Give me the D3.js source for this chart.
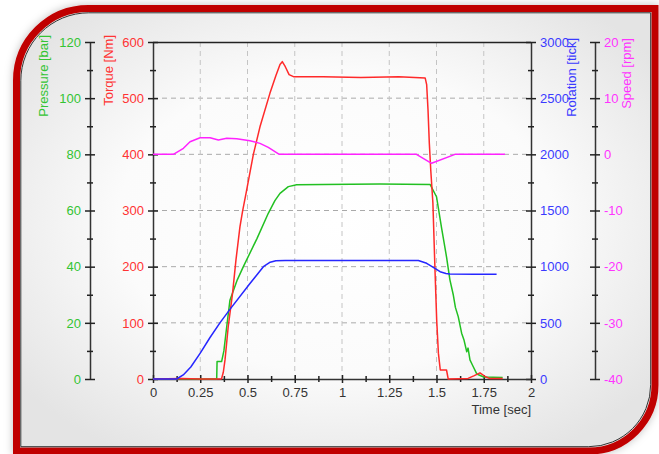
<!DOCTYPE html>
<html><head><meta charset="utf-8">
<script src="https://cdn.jsdelivr.net/npm/d3@7"></script>
<style>
body{margin:0;background:#fff;}
svg{display:block;font-family:"Liberation Sans",Arial,Helvetica,sans-serif;}
</style>
</head><body>
<svg id="c" width="659" height="454"></svg>
<script>
// ---------------- DATA ----------------
const timeTicks = [0,0.25,0.5,0.75,1,1.25,1.5,1.75,2];
const pressureTicks = [0,20,40,60,80,100,120];
const torqueTicks = [0,100,200,300,400,500,600];
const rotationTicks = [0,500,1000,1500,2000,2500,3000];
const speedTicks = [-40,-30,-20,-10,0,10,20];

// Torque [Nm] (red)
const torqueTime = [0,0.15,0.25,0.36,0.363,0.372,0.381,0.398,0.421,0.439,0.46,0.474,0.492,0.531,0.566,0.619,0.65,0.672,0.684,0.70,0.72,0.746,0.9,1.1,1.3,1.44,1.448,1.455,1.462,1.470,1.481,1.492,1.501,1.510,1.520,1.553,1.562,1.667,1.70,1.73,1.76,1.78,1.85];
const torqueVal  = [0,1,0,0,1,12,34,93,153,212,271,299,330,400,449,509,540,560,565,556,542,538,538,537,538,536,524,480,420,370,313,194,105,46,16,16,0,1,6,11,4,1,1];

// Pressure [bar] (green)
const pressureTime = [0,0.337,0.339,0.363,0.375,0.39,0.407,0.446,0.478,0.55,0.61,0.645,0.672,0.716,0.76,0.9,1.2,1.466,1.50,1.527,1.553,1.571,1.589,1.60,1.615,1.633,1.645,1.66,1.667,1.677,1.69,1.713,1.75,1.85];
const pressureVal  = [0,0,6.2,6.2,10,18.6,28,35.3,40,50,59,63.5,66.1,68.5,69.2,69.3,69.4,69.3,64.9,53.7,43.5,35.3,29.9,25.5,22.2,16.3,14,9.7,11,6.8,5,1.8,0.7,0.5];

// Rotation [tick] (blue)
const rotationTime = [0,0.125,0.16,0.20,0.25,0.30,0.354,0.407,0.513,0.584,0.62,0.65,0.7,1.0,1.3,1.404,1.448,1.483,1.519,1.55,1.571,1.7,1.818];
const rotationVal  = [0,0,36,107,230,365,500,620,850,1000,1040,1053,1055,1055,1055,1055,1030,994,955,940,935,933,932];

// Speed [rpm] (magenta)
const speedTime = [0,0.108,0.161,0.196,0.249,0.302,0.346,0.39,0.443,0.513,0.566,0.61,0.668,1.0,1.394,1.474,1.598,1.862];
const speedVal  = [0,0,1.07,2.25,2.96,2.96,2.55,2.85,2.78,2.43,1.95,1.24,0,0,0,-1.6,0,0];

// ---------------- DRAW ----------------
const svg = d3.select("#c");
const defs = svg.append("defs");
const rg = defs.append("radialGradient").attr("id","bg").attr("cx","50%").attr("cy","48%").attr("r","62%");
rg.append("stop").attr("offset","0%").attr("stop-color","#ffffff");
rg.append("stop").attr("offset","55%").attr("stop-color","#fbfbfb");
rg.append("stop").attr("offset","100%").attr("stop-color","#e4e4e4");
const f = defs.append("filter").attr("id","sh").attr("x","-10%").attr("y","-10%").attr("width","120%").attr("height","120%");
f.append("feDropShadow").attr("dx",0).attr("dy",0).attr("stdDeviation",4).attr("flood-color","#000").attr("flood-opacity",0.25);

function framePath(L,T,R,B,r1,r2){
  return `M${L},${T+r1} A${r1},${r1} 0 0 1 ${L+r1},${T} H${R} V${B-r2} A${r2},${r2} 0 0 1 ${R-r2},${B} H${L} Z`;
}
svg.append("path").attr("d",framePath(16.5,8.5,655,451,72,66))
  .attr("fill","url(#bg)").attr("stroke","#c00000").attr("stroke-width",7).attr("filter","url(#sh)");
svg.append("path").attr("d",framePath(20.8,12.8,650.7,446.7,68,62))
  .attr("fill","none").attr("stroke","#333").attr("stroke-width",1);

const X0=153, X1=531, Y0=379, Y1=42;
const x = d3.scaleLinear().domain([0,2]).range([X0,X1]);
const yT = d3.scaleLinear().domain([0,600]).range([Y0,Y1]);
const yP = d3.scaleLinear().domain([0,120]).range([Y0,Y1]);
const yR = d3.scaleLinear().domain([0,3000]).range([Y0,Y1]);
const yS = d3.scaleLinear().domain([-40,20]).range([Y0,Y1]);

// grid
const grid = svg.append("g").attr("stroke-dasharray","5,4").attr("stroke-width",1);
grid.selectAll("line.h").data(torqueTicks.filter(d=>d>0&&d<600)).join("line")
  .attr("x1",X0).attr("x2",X1).attr("y1",d=>yT(d)).attr("y2",d=>yT(d)).attr("stroke","#aaaaaa");
grid.selectAll("line.v").data(timeTicks.filter(d=>d>0&&d<2)).join("line").attr("class","v")
  .attr("y1",Y1).attr("y2",Y0).attr("x1",d=>x(d)).attr("x2",d=>x(d)).attr("stroke","#c4c4c4");

// top border
svg.append("line").attr("x1",X0).attr("x2",X1).attr("y1",Y1+0.5).attr("y2",Y1+0.5).attr("stroke","#222").attr("stroke-width",1.5);

function mids(t){const m=[];for(let i=0;i<t.length-1;i++)m.push((t[i]+t[i+1])/2);return m;}

function vAxis(scale, ticks, xpos, side, color){
  const ax = side==="left"?d3.axisLeft(scale):d3.axisRight(scale);
  const g = svg.append("g").attr("transform",`translate(${xpos},0)`).attr("color","#222")
    .call(ax.tickValues(ticks).tickSize(5).tickSizeOuter(0).tickPadding(4).tickFormat(d=>String(d)));
  g.select(".domain").attr("stroke-width",1.5).attr("stroke","#333");
  g.selectAll(".tick line").attr("x1", side==="left"?5:-5).attr("stroke-width",1.5);
  g.selectAll(".tick text").attr("fill",color).attr("font-size",13).attr("font-family","Liberation Sans, Arial, sans-serif");
  const gm = svg.append("g").attr("transform",`translate(${xpos},0)`).attr("color","#222")
    .call((side==="left"?d3.axisLeft(scale):d3.axisRight(scale)).tickValues(mids(ticks)).tickSize(3).tickFormat(""));
  gm.select(".domain").remove();
  gm.selectAll(".tick line").attr("x1", side==="left"?3:-3).attr("stroke-width",1.5);
}
vAxis(yP, pressureTicks, 90, "left", "#33c433");
vAxis(yT, torqueTicks, X0, "left", "#ff3333");
vAxis(yR, rotationTicks, X1, "right", "#3a3aff");
vAxis(yS, speedTicks, 595, "right", "#ff33ff");

// x axis
const gx = svg.append("g").attr("transform",`translate(0,${Y0})`).attr("color","#222")
  .call(d3.axisBottom(x).tickValues(timeTicks).tickSize(4).tickSizeOuter(0).tickPadding(5).tickFormat(d=>String(d)));
gx.select(".domain").attr("stroke-width",1.5).attr("stroke","#333");
gx.selectAll(".tick line").attr("y1",-4).attr("stroke-width",1.5);
gx.selectAll(".tick text").attr("fill","#333").attr("font-size",13).attr("font-family","Liberation Sans, Arial, sans-serif");
const gxm = svg.append("g").attr("transform",`translate(0,${Y0})`).attr("color","#222")
  .call(d3.axisBottom(x).tickValues(mids(timeTicks)).tickSize(3).tickFormat(""));
gxm.select(".domain").remove();
gxm.selectAll(".tick line").attr("y1",-3).attr("stroke-width",1.5);

// axis titles
function vTitle(txt, bx, ty, color){
  svg.append("text").attr("transform",`translate(${bx},${ty}) rotate(-90)`).attr("text-anchor","end")
    .attr("font-size",13).attr("fill",color).text(txt);
}
vTitle("Pressure [bar]", 48, 35, "#33c433");
vTitle("Torque [Nm]", 112.5, 35, "#ff3333");
vTitle("Rotation [tick]", 575.5, 38, "#3a3aff");
vTitle("Speed [rpm]", 631, 38, "#ff33ff");
svg.append("text").attr("x",X1).attr("y",414).attr("text-anchor","end").attr("font-size",13).attr("fill","#333").text("Time [sec]");

// series
function series(ts, vs, ys, color){
  const pts = ts.map((t,i)=>[t,vs[i]]);
  svg.append("path").datum(pts).attr("fill","none").attr("stroke",color).attr("stroke-width",1.5)
    .attr("stroke-linejoin","round")
    .attr("d", d3.line().x(d=>x(d[0])).y(d=>ys(d[1])));
}
series(pressureTime, pressureVal, yP, "#22c022");
series(torqueTime, torqueVal, yT, "#ff2a2a");
series(rotationTime, rotationVal, yR, "#2626ff");
series(speedTime, speedVal, yS, "#ff22ff");
</script>
</body></html>
